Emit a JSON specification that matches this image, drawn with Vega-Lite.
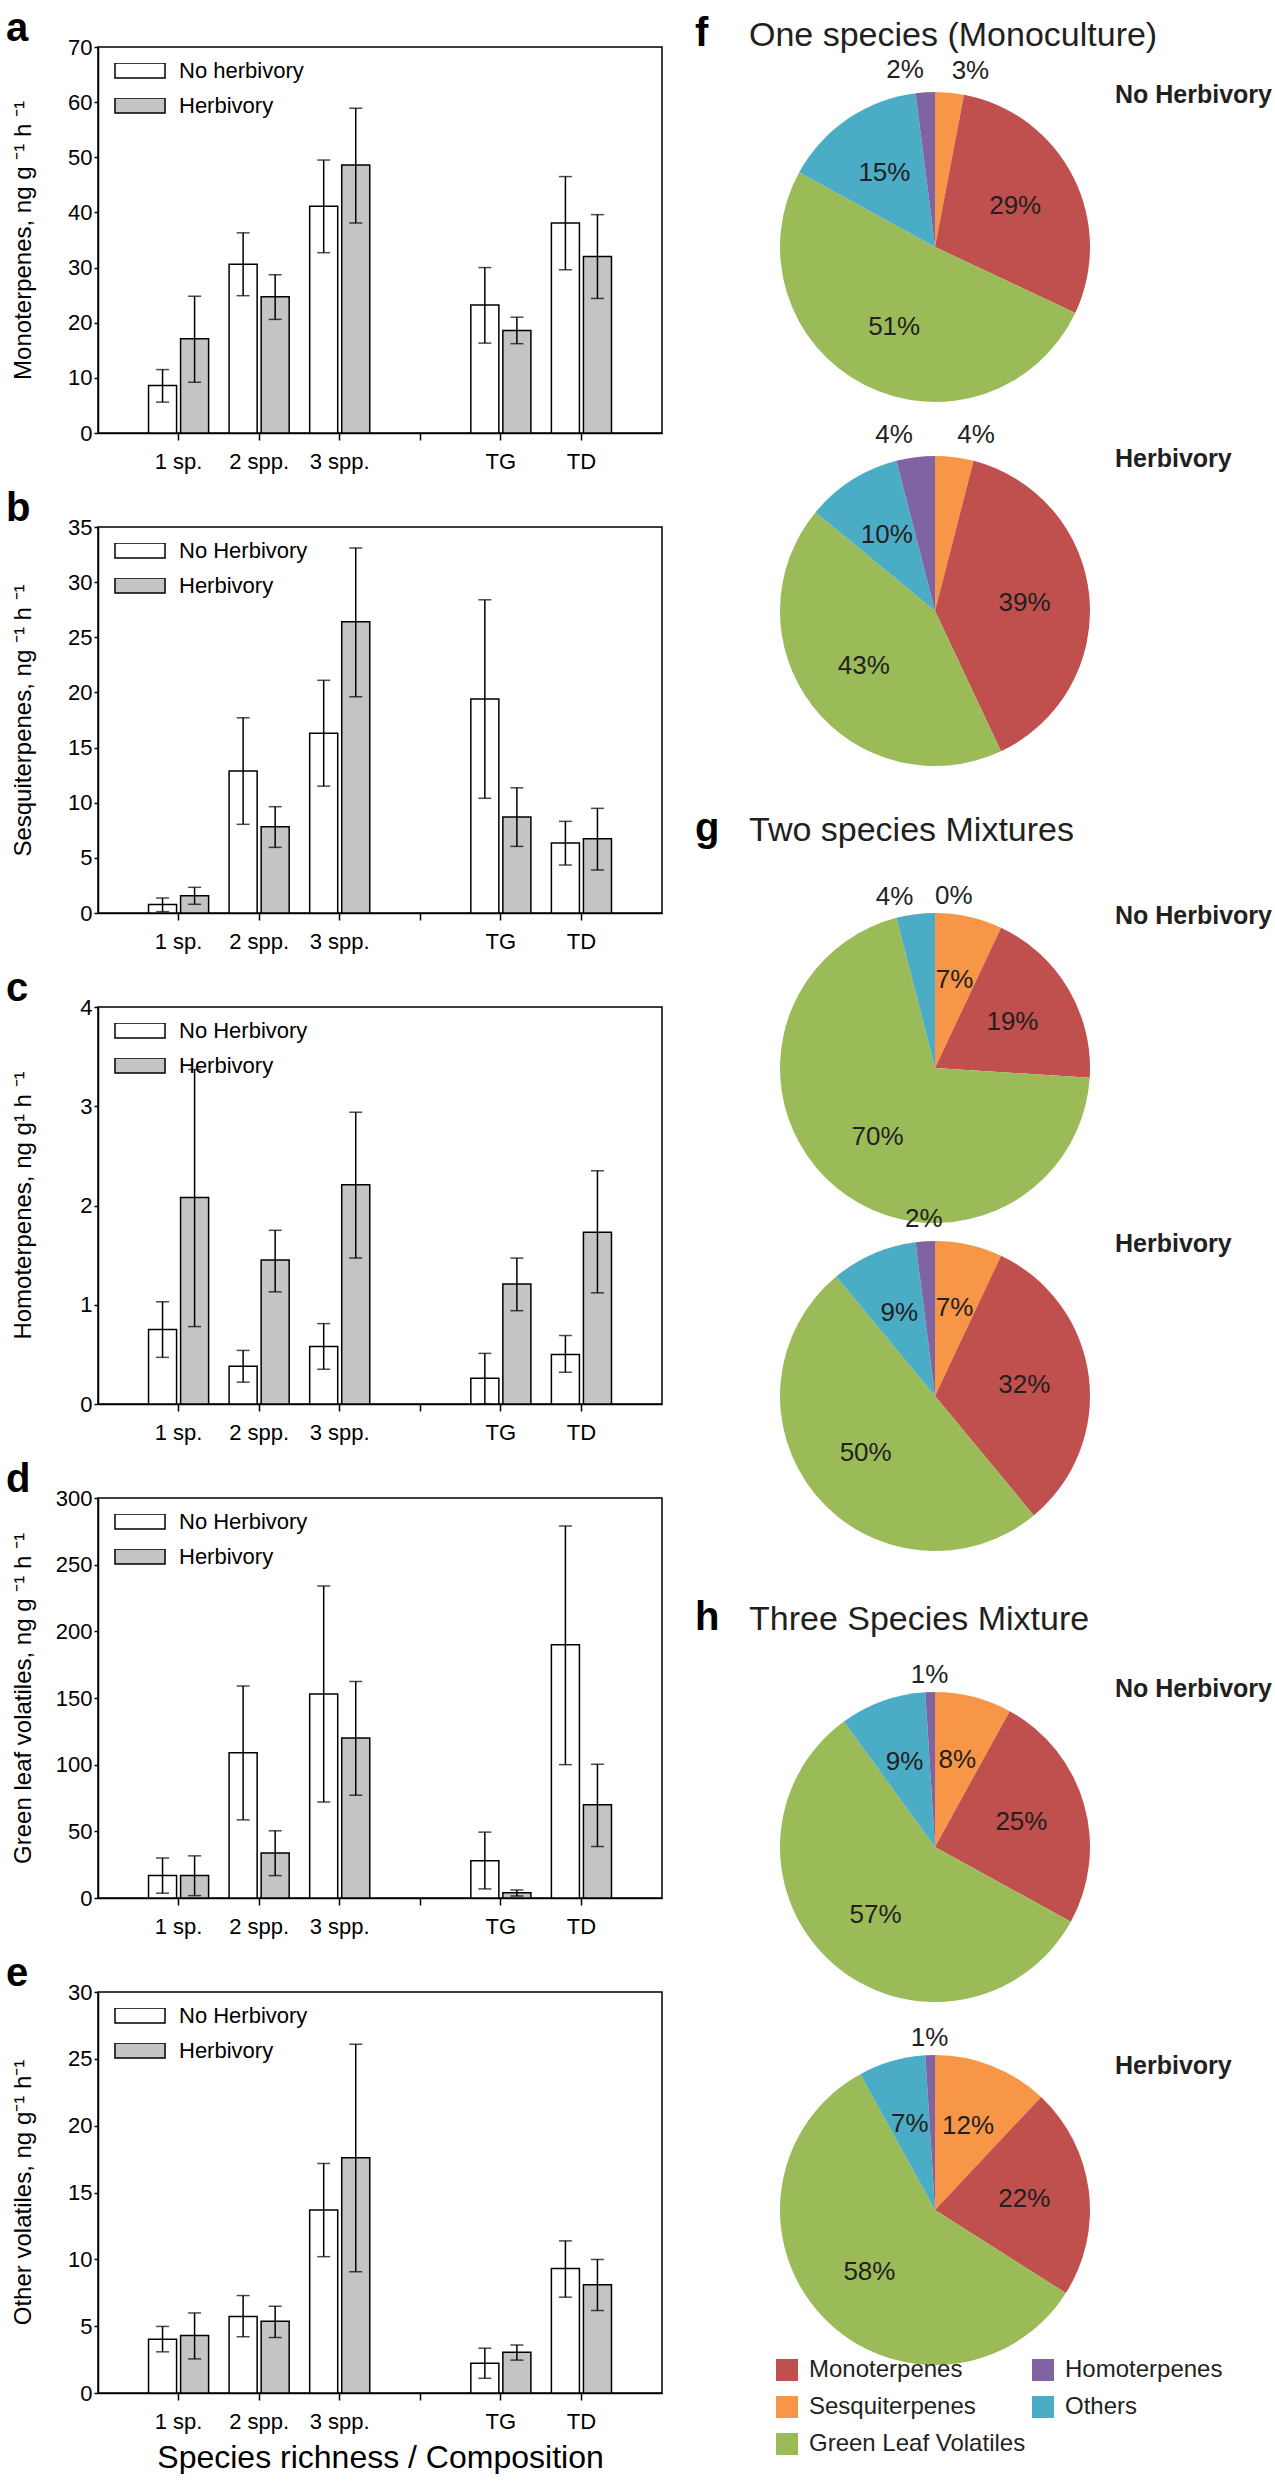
{
"$schema": "https://vega.github.io/schema/vega-lite/v6.json",
"padding": {"left": 5, "top": 8, "right": 0, "bottom": 0},
"columns": 2,
"align": "none",
"spacing": 32,
"resolve": {"scale": {"color": "independent", "theta": "independent", "xOffset": "independent"}, "legend": {"color": "independent"}},
"config": {
  "font": "Liberation Sans",
  "view": {"stroke": null},
  "axis": {"domainColor": "black", "tickColor": "black", "labelColor": "black", "titleColor": "black", "grid": false, "domainWidth": 1.5, "tickWidth": 1.5, "titleFontWeight": "normal"},
  "legend": {"labelColor": "black"},
  "title": {"color": "black"}
},
"datasets": {
  "bars": [
    {"v":"Mono","g":"1 sp.","t":"No Herbivory","m":8.6,"lo":5.6,"hi":11.5},
    {"v":"Mono","g":"1 sp.","t":"Herbivory","m":17.1,"lo":9.2,"hi":24.8},
    {"v":"Mono","g":"2 spp.","t":"No Herbivory","m":30.6,"lo":24.9,"hi":36.3},
    {"v":"Mono","g":"2 spp.","t":"Herbivory","m":24.7,"lo":20.6,"hi":28.7},
    {"v":"Mono","g":"3 spp.","t":"No Herbivory","m":41.1,"lo":32.7,"hi":49.5},
    {"v":"Mono","g":"3 spp.","t":"Herbivory","m":48.6,"lo":38.1,"hi":58.9},
    {"v":"Mono","g":"TG","t":"No Herbivory","m":23.2,"lo":16.3,"hi":30.0},
    {"v":"Mono","g":"TG","t":"Herbivory","m":18.6,"lo":16.2,"hi":21.0},
    {"v":"Mono","g":"TD","t":"No Herbivory","m":38.1,"lo":29.6,"hi":46.5},
    {"v":"Mono","g":"TD","t":"Herbivory","m":32.0,"lo":24.4,"hi":39.6},
    {"v":"Sesq","g":"1 sp.","t":"No Herbivory","m":0.76,"lo":0.12,"hi":1.36},
    {"v":"Sesq","g":"1 sp.","t":"Herbivory","m":1.57,"lo":0.79,"hi":2.33},
    {"v":"Sesq","g":"2 spp.","t":"No Herbivory","m":12.87,"lo":8.04,"hi":17.7},
    {"v":"Sesq","g":"2 spp.","t":"Herbivory","m":7.83,"lo":5.95,"hi":9.64},
    {"v":"Sesq","g":"3 spp.","t":"No Herbivory","m":16.3,"lo":11.5,"hi":21.1},
    {"v":"Sesq","g":"3 spp.","t":"Herbivory","m":26.4,"lo":19.6,"hi":33.1},
    {"v":"Sesq","g":"TG","t":"No Herbivory","m":19.4,"lo":10.4,"hi":28.4},
    {"v":"Sesq","g":"TG","t":"Herbivory","m":8.7,"lo":6.04,"hi":11.35},
    {"v":"Sesq","g":"TD","t":"No Herbivory","m":6.35,"lo":4.35,"hi":8.31},
    {"v":"Sesq","g":"TD","t":"Herbivory","m":6.74,"lo":3.9,"hi":9.49},
    {"v":"Homo","g":"1 sp.","t":"No Herbivory","m":0.75,"lo":0.47,"hi":1.03},
    {"v":"Homo","g":"1 sp.","t":"Herbivory","m":2.08,"lo":0.78,"hi":3.37},
    {"v":"Homo","g":"2 spp.","t":"No Herbivory","m":0.38,"lo":0.22,"hi":0.54},
    {"v":"Homo","g":"2 spp.","t":"Herbivory","m":1.45,"lo":1.13,"hi":1.75},
    {"v":"Homo","g":"3 spp.","t":"No Herbivory","m":0.58,"lo":0.35,"hi":0.81},
    {"v":"Homo","g":"3 spp.","t":"Herbivory","m":2.21,"lo":1.47,"hi":2.94},
    {"v":"Homo","g":"TG","t":"No Herbivory","m":0.26,"lo":0.0,"hi":0.51},
    {"v":"Homo","g":"TG","t":"Herbivory","m":1.21,"lo":0.94,"hi":1.47},
    {"v":"Homo","g":"TD","t":"No Herbivory","m":0.5,"lo":0.32,"hi":0.69},
    {"v":"Homo","g":"TD","t":"Herbivory","m":1.73,"lo":1.12,"hi":2.35},
    {"v":"GLV","g":"1 sp.","t":"No Herbivory","m":16.8,"lo":3.6,"hi":30},
    {"v":"GLV","g":"1 sp.","t":"Herbivory","m":16.8,"lo":1.8,"hi":31.6},
    {"v":"GLV","g":"2 spp.","t":"No Herbivory","m":109,"lo":58.6,"hi":159},
    {"v":"GLV","g":"2 spp.","t":"Herbivory","m":33.8,"lo":16.8,"hi":50.4},
    {"v":"GLV","g":"3 spp.","t":"No Herbivory","m":153,"lo":72,"hi":234},
    {"v":"GLV","g":"3 spp.","t":"Herbivory","m":120,"lo":77,"hi":162.4},
    {"v":"GLV","g":"TG","t":"No Herbivory","m":28,"lo":6.8,"hi":49.4},
    {"v":"GLV","g":"TG","t":"Herbivory","m":3.9,"lo":1.5,"hi":6},
    {"v":"GLV","g":"TD","t":"No Herbivory","m":190,"lo":100,"hi":279},
    {"v":"GLV","g":"TD","t":"Herbivory","m":70,"lo":38.6,"hi":100.3},
    {"v":"Other","g":"1 sp.","t":"No Herbivory","m":4.03,"lo":3.08,"hi":4.98},
    {"v":"Other","g":"1 sp.","t":"Herbivory","m":4.3,"lo":2.55,"hi":5.99},
    {"v":"Other","g":"2 spp.","t":"No Herbivory","m":5.72,"lo":4.21,"hi":7.29},
    {"v":"Other","g":"2 spp.","t":"Herbivory","m":5.37,"lo":4.15,"hi":6.49},
    {"v":"Other","g":"3 spp.","t":"No Herbivory","m":13.7,"lo":10.2,"hi":17.17},
    {"v":"Other","g":"3 spp.","t":"Herbivory","m":17.6,"lo":9.07,"hi":26.1},
    {"v":"Other","g":"TG","t":"No Herbivory","m":2.22,"lo":1.1,"hi":3.35},
    {"v":"Other","g":"TG","t":"Herbivory","m":3.05,"lo":2.46,"hi":3.59},
    {"v":"Other","g":"TD","t":"No Herbivory","m":9.31,"lo":7.17,"hi":11.38},
    {"v":"Other","g":"TD","t":"Herbivory","m":8.09,"lo":6.17,"hi":9.99}
  ],
  "pies": [
    {"pie":"f1","cat":"Sesquiterpenes","k":1,"p":0.03},
    {"pie":"f1","cat":"Monoterpenes","k":2,"p":0.29},
    {"pie":"f1","cat":"Green Leaf Volatiles","k":3,"p":0.51},
    {"pie":"f1","cat":"Others","k":4,"p":0.15},
    {"pie":"f1","cat":"Homoterpenes","k":5,"p":0.02},
    {"pie":"f2","cat":"Sesquiterpenes","k":1,"p":0.04},
    {"pie":"f2","cat":"Monoterpenes","k":2,"p":0.39},
    {"pie":"f2","cat":"Green Leaf Volatiles","k":3,"p":0.43},
    {"pie":"f2","cat":"Others","k":4,"p":0.10},
    {"pie":"f2","cat":"Homoterpenes","k":5,"p":0.04},
    {"pie":"g1","cat":"Sesquiterpenes","k":1,"p":0.07},
    {"pie":"g1","cat":"Monoterpenes","k":2,"p":0.19},
    {"pie":"g1","cat":"Green Leaf Volatiles","k":3,"p":0.70},
    {"pie":"g1","cat":"Others","k":4,"p":0.04},
    {"pie":"g1","cat":"Homoterpenes","k":5,"p":0.0},
    {"pie":"g2","cat":"Sesquiterpenes","k":1,"p":0.07},
    {"pie":"g2","cat":"Monoterpenes","k":2,"p":0.32},
    {"pie":"g2","cat":"Green Leaf Volatiles","k":3,"p":0.50},
    {"pie":"g2","cat":"Others","k":4,"p":0.09},
    {"pie":"g2","cat":"Homoterpenes","k":5,"p":0.02},
    {"pie":"h1","cat":"Sesquiterpenes","k":1,"p":0.08},
    {"pie":"h1","cat":"Monoterpenes","k":2,"p":0.25},
    {"pie":"h1","cat":"Green Leaf Volatiles","k":3,"p":0.57},
    {"pie":"h1","cat":"Others","k":4,"p":0.09},
    {"pie":"h1","cat":"Homoterpenes","k":5,"p":0.01},
    {"pie":"h2","cat":"Sesquiterpenes","k":1,"p":0.12},
    {"pie":"h2","cat":"Monoterpenes","k":2,"p":0.22},
    {"pie":"h2","cat":"Green Leaf Volatiles","k":3,"p":0.58},
    {"pie":"h2","cat":"Others","k":4,"p":0.07},
    {"pie":"h2","cat":"Homoterpenes","k":5,"p":0.01}
  ],
  "conds": [
    {"pie":"f1","lab":"No Herbivory"},
    {"pie":"f2","lab":"Herbivory"},
    {"pie":"g1","lab":"No Herbivory"},
    {"pie":"g2","lab":"Herbivory"},
    {"pie":"h1","lab":"No Herbivory"},
    {"pie":"h2","lab":"Herbivory"}
  ],
  "heads": [
    {"pie":"f1","letter":"f","name":"One species (Monoculture)"},
    {"pie":"g1","letter":"g","name":"Two species Mixtures"},
    {"pie":"h1","letter":"h","name":"Three Species Mixture"}
  ]
},
"concat": [
{
  "vconcat": [
  {
    "width": 564, "height": 386,
    "view": {"stroke": "black", "strokeWidth": 1.5},
    "title": {"text": "a", "anchor": "start", "frame": "bounds", "dx": -5, "offset": -45, "baseline": "alphabetic", "fontSize": 40, "fontWeight": "bold"},
    "data": {"name": "bars"},
    "transform": [{"filter": "datum.v == 'Mono'"}],
    "encoding": {
      "x": {"field": "g", "type": "nominal", "title": null, "scale": {"domain": ["1 sp.","2 spp.","3 spp."," ","TG","TD"], "paddingInner": 0, "paddingOuter": 0.5}, "axis": {"labelAngle": 0, "tickSize": 7, "labelPadding": 11, "labelFontSize": 22}},
      "xOffset": {"field": "t", "type": "nominal", "scale": {"domain": ["No Herbivory","Herbivory"], "paddingInner": 0.125, "paddingOuter": 0.32}}
    },
    "layer": [
      {"mark": {"type": "bar", "stroke": "black", "strokeWidth": 1.5},
       "encoding": {
         "y": {"field": "m", "type": "quantitative", "title": "Monoterpenes, ng g ⁻¹ h ⁻¹", "scale": {"domain": [0, 70], "nice": false}, "axis": {"values": [0,10,20,30,40,50,60,70], "tickSize": 4, "labelPadding": 2, "labelFontSize": 22, "titleFontSize": 24, "titleX": -63, "titleY": 193, "titleAngle": 270, "titleAlign": "center", "titleBaseline": "bottom"}},
         "color": {"field": "t", "type": "nominal", "scale": {"domain": ["No Herbivory","Herbivory"], "range": ["white","#c4c4c4"]},
           "legend": {"orient": "top-left", "offset": 16, "title": null, "padding": 0, "symbolType": "M-1,-0.3H1V0.3H-1Z", "symbolSize": 2500, "symbolStrokeColor": "black", "symbolStrokeWidth": 1.5, "symbolOpacity": 1, "labelFontSize": 22, "labelOffset": 13, "clipHeight": 15, "rowPadding": 12, "labelExpr": "datum.label == 'No Herbivory' ? 'No herbivory' : datum.label"}}
       }},
      {"mark": {"type": "rule", "stroke": "black", "strokeWidth": 1.5},
       "encoding": {"y": {"field": "lo", "type": "quantitative", "title": "Monoterpenes, ng g ⁻¹ h ⁻¹"}, "y2": {"field": "hi"}}},
      {"mark": {"type": "tick", "color": "black", "thickness": 1.5, "size": 13},
       "encoding": {"y": {"field": "lo", "type": "quantitative", "title": "Monoterpenes, ng g ⁻¹ h ⁻¹"}}},
      {"mark": {"type": "tick", "color": "black", "thickness": 1.5, "size": 13},
       "encoding": {"y": {"field": "hi", "type": "quantitative", "title": "Monoterpenes, ng g ⁻¹ h ⁻¹"}}}
    ]
  },
  {
    "width": 564, "height": 386,
    "view": {"stroke": "black", "strokeWidth": 1.5},
    "title": {"text": "b", "anchor": "start", "frame": "bounds", "dx": -5, "offset": -45, "baseline": "alphabetic", "fontSize": 40, "fontWeight": "bold"},
    "data": {"name": "bars"},
    "transform": [{"filter": "datum.v == 'Sesq'"}],
    "encoding": {
      "x": {"field": "g", "type": "nominal", "title": null, "scale": {"domain": ["1 sp.","2 spp.","3 spp."," ","TG","TD"], "paddingInner": 0, "paddingOuter": 0.5}, "axis": {"labelAngle": 0, "tickSize": 7, "labelPadding": 11, "labelFontSize": 22}},
      "xOffset": {"field": "t", "type": "nominal", "scale": {"domain": ["No Herbivory","Herbivory"], "paddingInner": 0.125, "paddingOuter": 0.32}}
    },
    "layer": [
      {"mark": {"type": "bar", "stroke": "black", "strokeWidth": 1.5},
       "encoding": {
         "y": {"field": "m", "type": "quantitative", "title": "Sesquiterpenes, ng ⁻¹ h ⁻¹", "scale": {"domain": [0, 35], "nice": false}, "axis": {"values": [0,5,10,15,20,25,30,35], "tickSize": 4, "labelPadding": 2, "labelFontSize": 22, "titleFontSize": 24, "titleX": -63, "titleY": 193, "titleAngle": 270, "titleAlign": "center", "titleBaseline": "bottom"}},
         "color": {"field": "t", "type": "nominal", "scale": {"domain": ["No Herbivory","Herbivory"], "range": ["white","#c4c4c4"]},
           "legend": {"orient": "top-left", "offset": 16, "title": null, "padding": 0, "symbolType": "M-1,-0.3H1V0.3H-1Z", "symbolSize": 2500, "symbolStrokeColor": "black", "symbolStrokeWidth": 1.5, "symbolOpacity": 1, "labelFontSize": 22, "labelOffset": 13, "clipHeight": 15, "rowPadding": 12}}
       }},
      {"mark": {"type": "rule", "stroke": "black", "strokeWidth": 1.5},
       "encoding": {"y": {"field": "lo", "type": "quantitative", "title": "Sesquiterpenes, ng ⁻¹ h ⁻¹"}, "y2": {"field": "hi"}}},
      {"mark": {"type": "tick", "color": "black", "thickness": 1.5, "size": 13},
       "encoding": {"y": {"field": "lo", "type": "quantitative", "title": "Sesquiterpenes, ng ⁻¹ h ⁻¹"}}},
      {"mark": {"type": "tick", "color": "black", "thickness": 1.5, "size": 13},
       "encoding": {"y": {"field": "hi", "type": "quantitative", "title": "Sesquiterpenes, ng ⁻¹ h ⁻¹"}}}
    ]
  },
  {
    "width": 564, "height": 397,
    "view": {"stroke": "black", "strokeWidth": 1.5},
    "title": {"text": "c", "anchor": "start", "frame": "bounds", "dx": -5, "offset": -45, "baseline": "alphabetic", "fontSize": 40, "fontWeight": "bold"},
    "data": {"name": "bars"},
    "transform": [{"filter": "datum.v == 'Homo'"}],
    "encoding": {
      "x": {"field": "g", "type": "nominal", "title": null, "scale": {"domain": ["1 sp.","2 spp.","3 spp."," ","TG","TD"], "paddingInner": 0, "paddingOuter": 0.5}, "axis": {"labelAngle": 0, "tickSize": 7, "labelPadding": 11, "labelFontSize": 22}},
      "xOffset": {"field": "t", "type": "nominal", "scale": {"domain": ["No Herbivory","Herbivory"], "paddingInner": 0.125, "paddingOuter": 0.32}}
    },
    "layer": [
      {"mark": {"type": "bar", "stroke": "black", "strokeWidth": 1.5},
       "encoding": {
         "y": {"field": "m", "type": "quantitative", "title": "Homoterpenes, ng g¹ h ⁻¹", "scale": {"domain": [0, 4], "nice": false}, "axis": {"values": [0,1,2,3,4], "format": "d", "tickSize": 4, "labelPadding": 2, "labelFontSize": 22, "titleFontSize": 24, "titleX": -63, "titleY": 198, "titleAngle": 270, "titleAlign": "center", "titleBaseline": "bottom"}},
         "color": {"field": "t", "type": "nominal", "scale": {"domain": ["No Herbivory","Herbivory"], "range": ["white","#c4c4c4"]},
           "legend": {"orient": "top-left", "offset": 16, "title": null, "padding": 0, "symbolType": "M-1,-0.3H1V0.3H-1Z", "symbolSize": 2500, "symbolStrokeColor": "black", "symbolStrokeWidth": 1.5, "symbolOpacity": 1, "labelFontSize": 22, "labelOffset": 13, "clipHeight": 15, "rowPadding": 12}}
       }},
      {"mark": {"type": "rule", "stroke": "black", "strokeWidth": 1.5},
       "encoding": {"y": {"field": "lo", "type": "quantitative", "title": "Homoterpenes, ng g¹ h ⁻¹"}, "y2": {"field": "hi"}}},
      {"mark": {"type": "tick", "color": "black", "thickness": 1.5, "size": 13},
       "encoding": {"y": {"field": "lo", "type": "quantitative", "title": "Homoterpenes, ng g¹ h ⁻¹"}}},
      {"mark": {"type": "tick", "color": "black", "thickness": 1.5, "size": 13},
       "encoding": {"y": {"field": "hi", "type": "quantitative", "title": "Homoterpenes, ng g¹ h ⁻¹"}}}
    ]
  },
  {
    "width": 564, "height": 400,
    "view": {"stroke": "black", "strokeWidth": 1.5},
    "title": {"text": "d", "anchor": "start", "frame": "bounds", "dx": -5, "offset": -45, "baseline": "alphabetic", "fontSize": 40, "fontWeight": "bold"},
    "data": {"name": "bars"},
    "transform": [{"filter": "datum.v == 'GLV'"}],
    "encoding": {
      "x": {"field": "g", "type": "nominal", "title": null, "scale": {"domain": ["1 sp.","2 spp.","3 spp."," ","TG","TD"], "paddingInner": 0, "paddingOuter": 0.5}, "axis": {"labelAngle": 0, "tickSize": 7, "labelPadding": 11, "labelFontSize": 22}},
      "xOffset": {"field": "t", "type": "nominal", "scale": {"domain": ["No Herbivory","Herbivory"], "paddingInner": 0.125, "paddingOuter": 0.32}}
    },
    "layer": [
      {"mark": {"type": "bar", "stroke": "black", "strokeWidth": 1.5},
       "encoding": {
         "y": {"field": "m", "type": "quantitative", "title": "Green leaf volatiles, ng g ⁻¹ h ⁻¹", "scale": {"domain": [0, 300], "nice": false}, "axis": {"values": [0,50,100,150,200,250,300], "tickSize": 4, "labelPadding": 2, "labelFontSize": 22, "titleFontSize": 24, "titleX": -63, "titleY": 200, "titleAngle": 270, "titleAlign": "center", "titleBaseline": "bottom"}},
         "color": {"field": "t", "type": "nominal", "scale": {"domain": ["No Herbivory","Herbivory"], "range": ["white","#c4c4c4"]},
           "legend": {"orient": "top-left", "offset": 16, "title": null, "padding": 0, "symbolType": "M-1,-0.3H1V0.3H-1Z", "symbolSize": 2500, "symbolStrokeColor": "black", "symbolStrokeWidth": 1.5, "symbolOpacity": 1, "labelFontSize": 22, "labelOffset": 13, "clipHeight": 15, "rowPadding": 12}}
       }},
      {"mark": {"type": "rule", "stroke": "black", "strokeWidth": 1.5},
       "encoding": {"y": {"field": "lo", "type": "quantitative", "title": "Green leaf volatiles, ng g ⁻¹ h ⁻¹"}, "y2": {"field": "hi"}}},
      {"mark": {"type": "tick", "color": "black", "thickness": 1.5, "size": 13},
       "encoding": {"y": {"field": "lo", "type": "quantitative", "title": "Green leaf volatiles, ng g ⁻¹ h ⁻¹"}}},
      {"mark": {"type": "tick", "color": "black", "thickness": 1.5, "size": 13},
       "encoding": {"y": {"field": "hi", "type": "quantitative", "title": "Green leaf volatiles, ng g ⁻¹ h ⁻¹"}}}
    ]
  },
  {
    "width": 564, "height": 401,
    "view": {"stroke": "black", "strokeWidth": 1.5},
    "title": {"text": "e", "anchor": "start", "frame": "bounds", "dx": -5, "offset": -45, "baseline": "alphabetic", "fontSize": 40, "fontWeight": "bold"},
    "data": {"name": "bars"},
    "transform": [{"filter": "datum.v == 'Other'"}],
    "encoding": {
      "x": {"field": "g", "type": "nominal", "title": "Species richness / Composition", "scale": {"domain": ["1 sp.","2 spp.","3 spp."," ","TG","TD"], "paddingInner": 0, "paddingOuter": 0.5}, "axis": {"labelAngle": 0, "tickSize": 7, "labelPadding": 11, "labelFontSize": 22, "titleFontSize": 32, "titlePadding": 10}},
      "xOffset": {"field": "t", "type": "nominal", "scale": {"domain": ["No Herbivory","Herbivory"], "paddingInner": 0.125, "paddingOuter": 0.32}}
    },
    "layer": [
      {"mark": {"type": "bar", "stroke": "black", "strokeWidth": 1.5},
       "encoding": {
         "y": {"field": "m", "type": "quantitative", "title": "Other volatiles, ng g⁻¹ h⁻¹", "scale": {"domain": [0, 30], "nice": false}, "axis": {"values": [0,5,10,15,20,25,30], "tickSize": 4, "labelPadding": 2, "labelFontSize": 22, "titleFontSize": 24, "titleX": -63, "titleY": 200, "titleAngle": 270, "titleAlign": "center", "titleBaseline": "bottom"}},
         "color": {"field": "t", "type": "nominal", "scale": {"domain": ["No Herbivory","Herbivory"], "range": ["white","#c4c4c4"]},
           "legend": {"orient": "top-left", "offset": 16, "title": null, "padding": 0, "symbolType": "M-1,-0.3H1V0.3H-1Z", "symbolSize": 2500, "symbolStrokeColor": "black", "symbolStrokeWidth": 1.5, "symbolOpacity": 1, "labelFontSize": 22, "labelOffset": 13, "clipHeight": 15, "rowPadding": 12}}
       }},
      {"mark": {"type": "rule", "stroke": "black", "strokeWidth": 1.5},
       "encoding": {"y": {"field": "lo", "type": "quantitative", "title": "Other volatiles, ng g⁻¹ h⁻¹"}, "y2": {"field": "hi"}}},
      {"mark": {"type": "tick", "color": "black", "thickness": 1.5, "size": 13},
       "encoding": {"y": {"field": "lo", "type": "quantitative", "title": "Other volatiles, ng g⁻¹ h⁻¹"}}},
      {"mark": {"type": "tick", "color": "black", "thickness": 1.5, "size": 13},
       "encoding": {"y": {"field": "hi", "type": "quantitative", "title": "Other volatiles, ng g⁻¹ h⁻¹"}}}
    ]
  }
  ],
  "spacing": 94,
  "bounds": "flush",
  "resolve": {"scale": {"color": "independent", "y": "independent"}, "legend": {"color": "independent"}}
},
{
  "vconcat": [
  {
    "width": 480, "height": 77,
    "data": {"values": []},
    "mark": "point"
  },
  {
    "width": 480, "height": 246,
    "layer": [
      {"data": {"name": "pies"}, "transform": [{"filter": "datum.pie == 'f1'"}],
       "mark": {"type": "arc", "outerRadius": 155},
       "encoding": {"theta": {"field": "p", "type": "quantitative", "stack": true}, "order": {"field": "k", "type": "quantitative"},
         "color": {"field": "cat", "type": "nominal", "scale": {"domain": ["Monoterpenes","Sesquiterpenes","Green Leaf Volatiles","Homoterpenes","Others"], "range": ["#c0504d","#f79646","#9bbb59","#8064a2","#4bacc6"]}, "legend": null}}},
      {"data": {"name": "pies"}, "transform": [{"filter": "datum.pie == 'f1'"}],
       "mark": {"type": "text", "radius": 90, "fontSize": 26, "color": "#231f20"},
       "encoding": {"theta": {"field": "p", "type": "quantitative", "stack": true}, "order": {"field": "k", "type": "quantitative"}, "detail": {"field": "cat", "type": "nominal"},
         "text": {"condition": {"test": "datum.p >= 0.05", "field": "p", "type": "quantitative", "format": ".0%"}, "value": ""}}},
      {"data": {"name": "pies"}, "transform": [{"filter": "datum.pie == 'f1'"}],
       "mark": {"type": "text", "radius": 177, "align": "right", "fontSize": 26, "color": "#231f20"},
       "encoding": {"theta": {"field": "p", "type": "quantitative", "stack": true}, "order": {"field": "k", "type": "quantitative"}, "detail": {"field": "cat", "type": "nominal"},
         "text": {"condition": {"test": "datum.cat == 'Homoterpenes'", "field": "p", "type": "quantitative", "format": ".0%"}, "value": ""}}},
      {"data": {"name": "pies"}, "transform": [{"filter": "datum.pie == 'f1'"}],
       "mark": {"type": "text", "radius": 177, "align": "left", "fontSize": 26, "color": "#231f20"},
       "encoding": {"theta": {"field": "p", "type": "quantitative", "stack": true}, "order": {"field": "k", "type": "quantitative"}, "detail": {"field": "cat", "type": "nominal"},
         "text": {"condition": {"test": "datum.cat == 'Sesquiterpenes'", "field": "p", "type": "quantitative", "format": ".0%"}, "value": ""}}},
      {"data": {"name": "conds"}, "transform": [{"filter": "datum.pie == 'f1'"}],
       "mark": {"type": "text", "align": "left", "baseline": "alphabetic", "dx": 180, "dy": -144, "fontSize": 25, "fontWeight": "bold", "color": "#231f20"},
       "encoding": {"text": {"field": "lab", "type": "nominal"}}},
      {"data": {"name": "heads"}, "transform": [{"filter": "datum.pie == 'f1'"}],
       "mark": {"type": "text", "align": "left", "baseline": "alphabetic", "dx": -240, "dy": -201, "fontSize": 40, "fontWeight": "bold", "color": "black"},
       "encoding": {"text": {"field": "letter", "type": "nominal"}}},
      {"data": {"name": "heads"}, "transform": [{"filter": "datum.pie == 'f1'"}],
       "mark": {"type": "text", "align": "left", "baseline": "alphabetic", "dx": -186, "dy": -201, "fontSize": 34, "color": "#231f20"},
       "encoding": {"text": {"field": "name", "type": "nominal"}}}
    ]
  },
  {
    "width": 480, "height": 482,
    "layer": [
      {"data": {"name": "pies"}, "transform": [{"filter": "datum.pie == 'f2'"}],
       "mark": {"type": "arc", "outerRadius": 155},
       "encoding": {"theta": {"field": "p", "type": "quantitative", "stack": true}, "order": {"field": "k", "type": "quantitative"},
         "color": {"field": "cat", "type": "nominal", "scale": {"domain": ["Monoterpenes","Sesquiterpenes","Green Leaf Volatiles","Homoterpenes","Others"], "range": ["#c0504d","#f79646","#9bbb59","#8064a2","#4bacc6"]}, "legend": null}}},
      {"data": {"name": "pies"}, "transform": [{"filter": "datum.pie == 'f2'"}],
       "mark": {"type": "text", "radius": 90, "fontSize": 26, "color": "#231f20"},
       "encoding": {"theta": {"field": "p", "type": "quantitative", "stack": true}, "order": {"field": "k", "type": "quantitative"}, "detail": {"field": "cat", "type": "nominal"},
         "text": {"condition": {"test": "datum.p >= 0.05", "field": "p", "type": "quantitative", "format": ".0%"}, "value": ""}}},
      {"data": {"name": "pies"}, "transform": [{"filter": "datum.pie == 'f2'"}],
       "mark": {"type": "text", "radius": 177, "align": "right", "fontSize": 26, "color": "#231f20"},
       "encoding": {"theta": {"field": "p", "type": "quantitative", "stack": true}, "order": {"field": "k", "type": "quantitative"}, "detail": {"field": "cat", "type": "nominal"},
         "text": {"condition": {"test": "datum.cat == 'Homoterpenes'", "field": "p", "type": "quantitative", "format": ".0%"}, "value": ""}}},
      {"data": {"name": "pies"}, "transform": [{"filter": "datum.pie == 'f2'"}],
       "mark": {"type": "text", "radius": 177, "align": "left", "fontSize": 26, "color": "#231f20"},
       "encoding": {"theta": {"field": "p", "type": "quantitative", "stack": true}, "order": {"field": "k", "type": "quantitative"}, "detail": {"field": "cat", "type": "nominal"},
         "text": {"condition": {"test": "datum.cat == 'Sesquiterpenes'", "field": "p", "type": "quantitative", "format": ".0%"}, "value": ""}}},
      {"data": {"name": "conds"}, "transform": [{"filter": "datum.pie == 'f2'"}],
       "mark": {"type": "text", "align": "left", "baseline": "alphabetic", "dx": 180, "dy": -144, "fontSize": 25, "fontWeight": "bold", "color": "#231f20"},
       "encoding": {"text": {"field": "lab", "type": "nominal"}}}
    ]
  },
  {
    "width": 480, "height": 432,
    "layer": [
      {"data": {"name": "pies"}, "transform": [{"filter": "datum.pie == 'g1'"}],
       "mark": {"type": "arc", "outerRadius": 155},
       "encoding": {"theta": {"field": "p", "type": "quantitative", "stack": true}, "order": {"field": "k", "type": "quantitative"},
         "color": {"field": "cat", "type": "nominal", "scale": {"domain": ["Monoterpenes","Sesquiterpenes","Green Leaf Volatiles","Homoterpenes","Others"], "range": ["#c0504d","#f79646","#9bbb59","#8064a2","#4bacc6"]}, "legend": null}}},
      {"data": {"name": "pies"}, "transform": [{"filter": "datum.pie == 'g1'"}],
       "mark": {"type": "text", "radius": 90, "fontSize": 26, "color": "#231f20"},
       "encoding": {"theta": {"field": "p", "type": "quantitative", "stack": true}, "order": {"field": "k", "type": "quantitative"}, "detail": {"field": "cat", "type": "nominal"},
         "text": {"condition": {"test": "datum.p >= 0.05", "field": "p", "type": "quantitative", "format": ".0%"}, "value": ""}}},
      {"data": {"name": "pies"}, "transform": [{"filter": "datum.pie == 'g1'"}],
       "mark": {"type": "text", "radius": 172, "align": "right", "fontSize": 26, "color": "#231f20"},
       "encoding": {"theta": {"field": "p", "type": "quantitative", "stack": true}, "order": {"field": "k", "type": "quantitative"}, "detail": {"field": "cat", "type": "nominal"},
         "text": {"condition": {"test": "datum.cat == 'Others'", "field": "p", "type": "quantitative", "format": ".0%"}, "value": ""}}},
      {"data": {"name": "pies"}, "transform": [{"filter": "datum.pie == 'g1'"}],
       "mark": {"type": "text", "radius": 172, "align": "left", "fontSize": 26, "color": "#231f20"},
       "encoding": {"theta": {"field": "p", "type": "quantitative", "stack": true}, "order": {"field": "k", "type": "quantitative"}, "detail": {"field": "cat", "type": "nominal"},
         "text": {"condition": {"test": "datum.cat == 'Homoterpenes'", "field": "p", "type": "quantitative", "format": ".0%"}, "value": ""}}},
      {"data": {"name": "conds"}, "transform": [{"filter": "datum.pie == 'g1'"}],
       "mark": {"type": "text", "align": "left", "baseline": "alphabetic", "dx": 180, "dy": -144, "fontSize": 25, "fontWeight": "bold", "color": "#231f20"},
       "encoding": {"text": {"field": "lab", "type": "nominal"}}},
      {"data": {"name": "heads"}, "transform": [{"filter": "datum.pie == 'g1'"}],
       "mark": {"type": "text", "align": "left", "baseline": "alphabetic", "dx": -240, "dy": -227, "fontSize": 40, "fontWeight": "bold", "color": "black"},
       "encoding": {"text": {"field": "letter", "type": "nominal"}}},
      {"data": {"name": "heads"}, "transform": [{"filter": "datum.pie == 'g1'"}],
       "mark": {"type": "text", "align": "left", "baseline": "alphabetic", "dx": -186, "dy": -227, "fontSize": 34, "color": "#231f20"},
       "encoding": {"text": {"field": "name", "type": "nominal"}}}
    ]
  },
  {
    "width": 480, "height": 224,
    "layer": [
      {"data": {"name": "pies"}, "transform": [{"filter": "datum.pie == 'g2'"}],
       "mark": {"type": "arc", "outerRadius": 155},
       "encoding": {"theta": {"field": "p", "type": "quantitative", "stack": true}, "order": {"field": "k", "type": "quantitative"},
         "color": {"field": "cat", "type": "nominal", "scale": {"domain": ["Monoterpenes","Sesquiterpenes","Green Leaf Volatiles","Homoterpenes","Others"], "range": ["#c0504d","#f79646","#9bbb59","#8064a2","#4bacc6"]}, "legend": null}}},
      {"data": {"name": "pies"}, "transform": [{"filter": "datum.pie == 'g2'"}],
       "mark": {"type": "text", "radius": 90, "fontSize": 26, "color": "#231f20"},
       "encoding": {"theta": {"field": "p", "type": "quantitative", "stack": true}, "order": {"field": "k", "type": "quantitative"}, "detail": {"field": "cat", "type": "nominal"},
         "text": {"condition": {"test": "datum.p >= 0.05", "field": "p", "type": "quantitative", "format": ".0%"}, "value": ""}}},
      {"data": {"name": "pies"}, "transform": [{"filter": "datum.pie == 'g2'"}],
       "mark": {"type": "text", "radius": 177, "fontSize": 26, "color": "#231f20"},
       "encoding": {"theta": {"field": "p", "type": "quantitative", "stack": true}, "order": {"field": "k", "type": "quantitative"}, "detail": {"field": "cat", "type": "nominal"},
         "text": {"condition": {"test": "datum.cat == 'Homoterpenes'", "field": "p", "type": "quantitative", "format": ".0%"}, "value": ""}}},
      {"data": {"name": "conds"}, "transform": [{"filter": "datum.pie == 'g2'"}],
       "mark": {"type": "text", "align": "left", "baseline": "alphabetic", "dx": 180, "dy": -144, "fontSize": 25, "fontWeight": "bold", "color": "#231f20"},
       "encoding": {"text": {"field": "lab", "type": "nominal"}}}
    ]
  },
  {
    "width": 480, "height": 678,
    "layer": [
      {"data": {"name": "pies"}, "transform": [{"filter": "datum.pie == 'h1'"}],
       "mark": {"type": "arc", "outerRadius": 155},
       "encoding": {"theta": {"field": "p", "type": "quantitative", "stack": true}, "order": {"field": "k", "type": "quantitative"},
         "color": {"field": "cat", "type": "nominal", "scale": {"domain": ["Monoterpenes","Sesquiterpenes","Green Leaf Volatiles","Homoterpenes","Others"], "range": ["#c0504d","#f79646","#9bbb59","#8064a2","#4bacc6"]}, "legend": null}}},
      {"data": {"name": "pies"}, "transform": [{"filter": "datum.pie == 'h1'"}],
       "mark": {"type": "text", "radius": 90, "fontSize": 26, "color": "#231f20"},
       "encoding": {"theta": {"field": "p", "type": "quantitative", "stack": true}, "order": {"field": "k", "type": "quantitative"}, "detail": {"field": "cat", "type": "nominal"},
         "text": {"condition": {"test": "datum.p >= 0.05", "field": "p", "type": "quantitative", "format": ".0%"}, "value": ""}}},
      {"data": {"name": "pies"}, "transform": [{"filter": "datum.pie == 'h1'"}],
       "mark": {"type": "text", "radius": 172, "fontSize": 26, "color": "#231f20"},
       "encoding": {"theta": {"field": "p", "type": "quantitative", "stack": true}, "order": {"field": "k", "type": "quantitative"}, "detail": {"field": "cat", "type": "nominal"},
         "text": {"condition": {"test": "datum.cat == 'Homoterpenes'", "field": "p", "type": "quantitative", "format": ".0%"}, "value": ""}}},
      {"data": {"name": "conds"}, "transform": [{"filter": "datum.pie == 'h1'"}],
       "mark": {"type": "text", "align": "left", "baseline": "alphabetic", "dx": 180, "dy": -150, "fontSize": 25, "fontWeight": "bold", "color": "#231f20"},
       "encoding": {"text": {"field": "lab", "type": "nominal"}}},
      {"data": {"name": "heads"}, "transform": [{"filter": "datum.pie == 'h1'"}],
       "mark": {"type": "text", "align": "left", "baseline": "alphabetic", "dx": -240, "dy": -217, "fontSize": 40, "fontWeight": "bold", "color": "black"},
       "encoding": {"text": {"field": "letter", "type": "nominal"}}},
      {"data": {"name": "heads"}, "transform": [{"filter": "datum.pie == 'h1'"}],
       "mark": {"type": "text", "align": "left", "baseline": "alphabetic", "dx": -186, "dy": -217, "fontSize": 34, "color": "#231f20"},
       "encoding": {"text": {"field": "name", "type": "nominal"}}}
    ]
  },
  {
    "width": 480, "height": 48,
    "layer": [
      {"data": {"name": "pies"}, "transform": [{"filter": "datum.pie == 'h2'"}],
       "mark": {"type": "arc", "outerRadius": 155},
       "encoding": {"theta": {"field": "p", "type": "quantitative", "stack": true}, "order": {"field": "k", "type": "quantitative"},
         "color": {"field": "cat", "type": "nominal", "scale": {"domain": ["Monoterpenes","Sesquiterpenes","Green Leaf Volatiles","Homoterpenes","Others"], "range": ["#c0504d","#f79646","#9bbb59","#8064a2","#4bacc6"]},
           "legend": {"orient": "none", "legendX": 80, "legendY": 172, "columns": 2, "title": null, "padding": 0, "symbolType": "square", "symbolSize": 484, "symbolStrokeWidth": 0, "labelFontSize": 24, "labelOffset": 10, "labelLimit": 400, "clipHeight": 24, "rowPadding": 13, "columnPadding": 5, "labelColor": "#231f20"}}}},
      {"data": {"name": "pies"}, "transform": [{"filter": "datum.pie == 'h2'"}],
       "mark": {"type": "text", "radius": 90, "fontSize": 26, "color": "#231f20"},
       "encoding": {"theta": {"field": "p", "type": "quantitative", "stack": true}, "order": {"field": "k", "type": "quantitative"}, "detail": {"field": "cat", "type": "nominal"},
         "text": {"condition": {"test": "datum.p >= 0.05", "field": "p", "type": "quantitative", "format": ".0%"}, "value": ""}}},
      {"data": {"name": "pies"}, "transform": [{"filter": "datum.pie == 'h2'"}],
       "mark": {"type": "text", "radius": 172, "fontSize": 26, "color": "#231f20"},
       "encoding": {"theta": {"field": "p", "type": "quantitative", "stack": true}, "order": {"field": "k", "type": "quantitative"}, "detail": {"field": "cat", "type": "nominal"},
         "text": {"condition": {"test": "datum.cat == 'Homoterpenes'", "field": "p", "type": "quantitative", "format": ".0%"}, "value": ""}}},
      {"data": {"name": "conds"}, "transform": [{"filter": "datum.pie == 'h2'"}],
       "mark": {"type": "text", "align": "left", "baseline": "alphabetic", "dx": 180, "dy": -136, "fontSize": 25, "fontWeight": "bold", "color": "#231f20"},
       "encoding": {"text": {"field": "lab", "type": "nominal"}}}
    ]
  }
  ],
  "spacing": 0,
  "bounds": "flush",
  "resolve": {"scale": {"color": "independent", "theta": "independent"}, "legend": {"color": "independent"}}
}
]
}
